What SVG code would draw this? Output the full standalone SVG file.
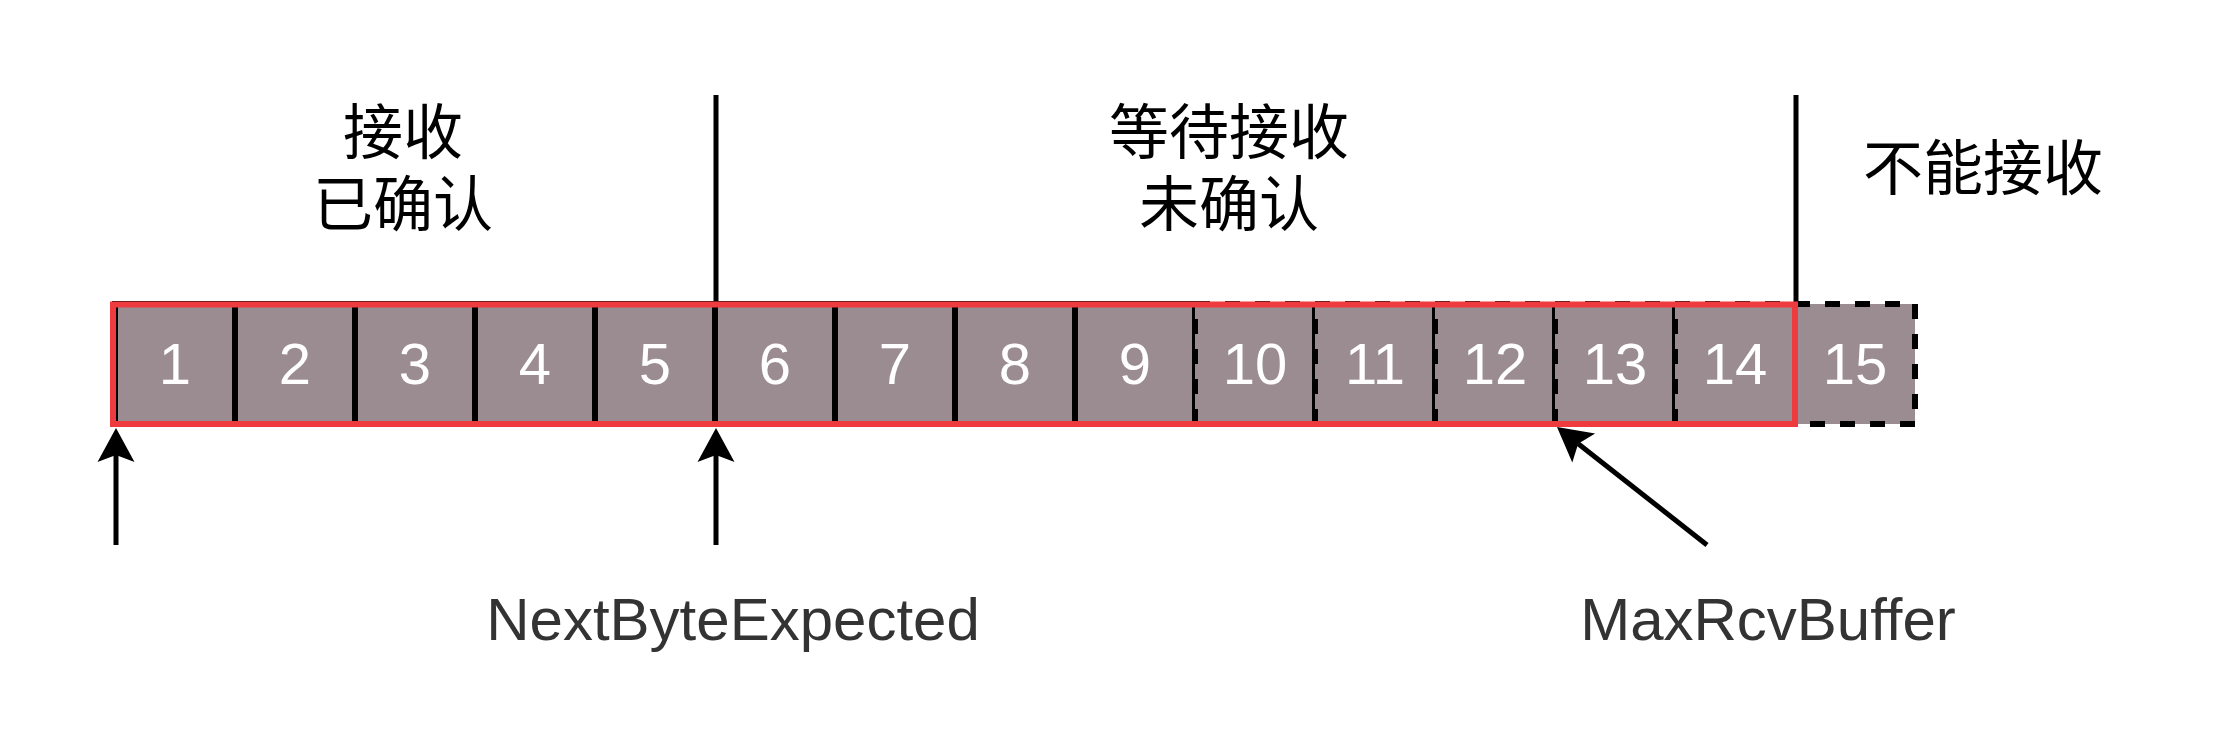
<svg xmlns="http://www.w3.org/2000/svg" width="2220" height="756" viewBox="0 0 2220 756">
  <style>
    .cell { fill: #9b8c91; stroke: #000; stroke-width: 6; }
    .dash { stroke-dasharray: 15 15; }
    .num { font-family: "Liberation Sans", Arial, sans-serif; font-size: 58px; fill: #fff; text-anchor: middle; }
    .cjk { font-family: "Noto Sans CJK SC", "Noto Sans CJK JP", sans-serif; font-size: 60px; fill: #000; text-anchor: middle; }
    .lbl { font-family: "Liberation Sans", Arial, sans-serif; font-size: 60px; fill: #333; text-anchor: middle; }
    .sep { stroke: #000; stroke-width: 5; fill: none; }
    .arrow { stroke: #000; stroke-width: 5; fill: none; marker-end: url(#head); }
  </style>
  <defs>
    <marker id="head" markerUnits="userSpaceOnUse" viewBox="-8 -20 36 40" markerWidth="36" markerHeight="40" refX="0" refY="0" orient="auto">
      <path d="M27,0 L-7,-18.5 L0,0 L-7,18.5 Z" fill="#000"/>
    </marker>
  </defs>
  <rect width="2220" height="756" fill="#fff"/>

  <g id="labels">
    <text class="cjk"><tspan x="403" y="154">接收</tspan><tspan x="403" y="226">已确认</tspan></text>
    <text class="cjk"><tspan x="1229" y="154">等待接收</tspan><tspan x="1229" y="226">未确认</tspan></text>
    <text class="cjk" x="1983" y="190">不能接收</text>
    <text class="lbl" x="733" y="640">NextByteExpected</text>
    <text class="lbl" x="1768" y="640">MaxRcvBuffer</text>
  </g>

  <g id="separators">
    <line class="sep" x1="716" y1="95" x2="716" y2="303"/>
    <line class="sep" x1="1796" y1="95" x2="1796" y2="303"/>
  </g>

  <g id="cell1"><rect class="cell" x="115" y="304" width="120" height="120"/><text class="num" x="175" y="384">1</text></g>
  <g id="cell2"><rect class="cell" x="235" y="304" width="120" height="120"/><text class="num" x="295" y="384">2</text></g>
  <g id="cell3"><rect class="cell" x="355" y="304" width="120" height="120"/><text class="num" x="415" y="384">3</text></g>
  <g id="cell4"><rect class="cell" x="475" y="304" width="120" height="120"/><text class="num" x="535" y="384">4</text></g>
  <g id="cell5"><rect class="cell" x="595" y="304" width="120" height="120"/><text class="num" x="655" y="384">5</text></g>
  <g id="cell6"><rect class="cell" x="715" y="304" width="120" height="120"/><text class="num" x="775" y="384">6</text></g>
  <g id="cell7"><rect class="cell" x="835" y="304" width="120" height="120"/><text class="num" x="895" y="384">7</text></g>
  <g id="cell8"><rect class="cell" x="955" y="304" width="120" height="120"/><text class="num" x="1015" y="384">8</text></g>
  <g id="cell9"><rect class="cell" x="1075" y="304" width="120" height="120"/><text class="num" x="1135" y="384">9</text></g>
  <g id="cell10"><rect class="cell dash" x="1195" y="304" width="120" height="120"/><text class="num" x="1255" y="384">10</text></g>
  <g id="cell11"><rect class="cell dash" x="1315" y="304" width="120" height="120"/><text class="num" x="1375" y="384">11</text></g>
  <g id="cell12"><rect class="cell dash" x="1435" y="304" width="120" height="120"/><text class="num" x="1495" y="384">12</text></g>
  <g id="cell13"><rect class="cell dash" x="1555" y="304" width="120" height="120"/><text class="num" x="1615" y="384">13</text></g>
  <g id="cell14"><rect class="cell dash" x="1675" y="304" width="120" height="120"/><text class="num" x="1735" y="384">14</text></g>
  <g id="cell15"><rect class="cell dash" x="1795" y="304" width="120" height="120"/><text class="num" x="1855" y="384">15</text></g>

  <g id="window">
    <rect x="113" y="304.5" width="1682" height="119.5" fill="none" stroke="#ee3b3f" stroke-width="6"/>
  </g>

  <g id="connectors">
    <line class="arrow" x1="116" y1="545" x2="116" y2="455"/>
    <line class="arrow" x1="716" y1="545" x2="716" y2="455"/>
    <line class="arrow" x1="1707" y1="545" x2="1578.2" y2="443.7"/>
  </g>
</svg>
